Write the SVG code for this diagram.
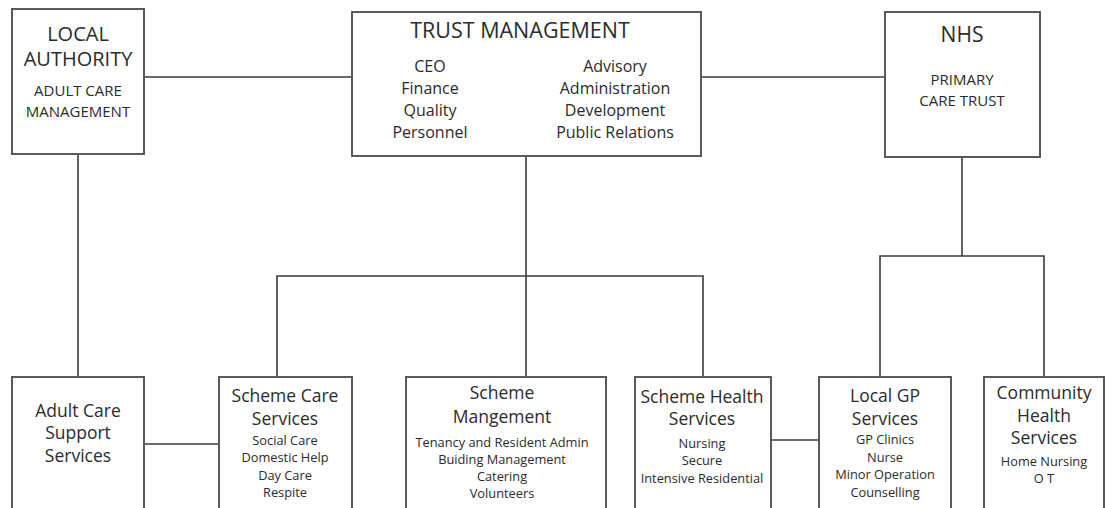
<svg xmlns="http://www.w3.org/2000/svg" width="1106" height="508" viewBox="0 0 1106 508">
<style>
.box{fill:#fff;stroke:#5a5a5a;stroke-width:2}
.con{fill:none;stroke:#3a3a3a;stroke-width:1.6}
text{font-family:"Open Sans","Noto Sans",sans-serif;fill:#2b2b2b;text-anchor:middle}
.h1{font-size:20px}
.h2{font-size:15px}
.t{font-size:17.5px}
.m{font-size:16px}
.s{font-size:12.8px}
</style>
<rect width="1106" height="508" fill="#fff"/>
<g id="connectors">
<path class="con" d="M144 77H352"/>
<path class="con" d="M701 77H885"/>
<path class="con" d="M78 154V377"/>
<path class="con" d="M144 444H219"/>
<path class="con" d="M526 156V377"/>
<path class="con" d="M277 377V276H703V377"/>
<path class="con" d="M771 440H819"/>
<path class="con" d="M962 157V256"/>
<path class="con" d="M880 377V256H1044V377"/>
</g>
<g id="local-authority">
<rect class="box" x="12" y="9" width="132" height="145"/>
<text class="h1" x="78" y="41">LOCAL</text>
<text class="h1" x="78" y="66">AUTHORITY</text>
<text class="h2" x="78" y="96">ADULT CARE</text>
<text class="h2" x="78" y="117">MANAGEMENT</text>
</g>
<g id="trust-management">
<rect class="box" x="352" y="12" width="349" height="144"/>
<text x="520" y="38" style="font-size:21.5px">TRUST MANAGEMENT</text>
<text class="m" x="430" y="72">CEO</text>
<text class="m" x="430" y="94">Finance</text>
<text class="m" x="430" y="116">Quality</text>
<text class="m" x="430" y="138">Personnel</text>
<text class="m" x="615" y="72">Advisory</text>
<text class="m" x="615" y="94">Administration</text>
<text class="m" x="615" y="116">Development</text>
<text class="m" x="615" y="138">Public Relations</text>
</g>
<g id="nhs">
<rect class="box" x="885" y="12" width="155" height="145"/>
<text x="962" y="42" style="font-size:21px">NHS</text>
<text class="h2" x="962" y="85">PRIMARY</text>
<text class="h2" x="962" y="106">CARE TRUST</text>
</g>
<g id="adult-care-support">
<rect class="box" x="12" y="377" width="132" height="145"/>
<text class="t" x="78" y="417">Adult Care</text>
<text class="t" x="78" y="439">Support</text>
<text class="t" x="78" y="462">Services</text>
</g>
<g id="scheme-care">
<rect class="box" x="219" y="377" width="133" height="145"/>
<text class="t" x="285" y="402">Scheme Care</text>
<text class="t" x="285" y="425">Services</text>
<text class="s" x="285" y="445">Social Care</text>
<text class="s" x="285" y="462">Domestic Help</text>
<text class="s" x="285" y="480">Day Care</text>
<text class="s" x="285" y="497">Respite</text>
</g>
<g id="scheme-management">
<rect class="box" x="406" y="377" width="200" height="145"/>
<text class="t" x="502" y="399">Scheme</text>
<text class="t" x="502" y="423">Mangement</text>
<text class="s" x="502" y="447">Tenancy and Resident Admin</text>
<text class="s" x="502" y="464">Buiding Management</text>
<text class="s" x="502" y="481">Catering</text>
<text class="s" x="502" y="498">Volunteers</text>
</g>
<g id="scheme-health">
<rect class="box" x="635" y="377" width="136" height="145"/>
<text class="t" x="702" y="403">Scheme Health</text>
<text class="t" x="702" y="425">Services</text>
<text class="s" x="702" y="448">Nursing</text>
<text class="s" x="702" y="465">Secure</text>
<text class="s" x="702" y="483">Intensive Residential</text>
</g>
<g id="local-gp">
<rect class="box" x="819" y="377" width="132" height="145"/>
<text class="t" x="885" y="402">Local GP</text>
<text class="t" x="885" y="425">Services</text>
<text class="s" x="885" y="444">GP Clinics</text>
<text class="s" x="885" y="462">Nurse</text>
<text class="s" x="885" y="479">Minor Operation</text>
<text class="s" x="885" y="497">Counselling</text>
</g>
<g id="community-health">
<rect class="box" x="984" y="377" width="120" height="145"/>
<text class="t" x="1044" y="399">Community</text>
<text class="t" x="1044" y="422">Health</text>
<text class="t" x="1044" y="444">Services</text>
<text class="s" x="1044" y="466">Home Nursing</text>
<text class="s" x="1044" y="483">O T</text>
</g>
</svg>
